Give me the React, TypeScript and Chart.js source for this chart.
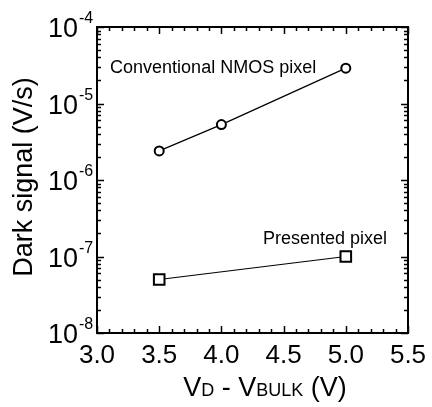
import React, { useEffect, useRef } from "react";
import { Chart, registerables } from "chart.js";

Chart.register(...registerables);

// ---- data ----
const conventionalX = [3.5, 4.0, 5.0];
const conventionalY = [2.4e-6, 5.3e-6, 2.9e-5];
const presentedX = [3.5, 5.0];
const presentedY = [5.0e-8, 1.0e-7];
const xTickLabels = ["3.0", "3.5", "4.0", "4.5", "5.0", "5.5"];
const xTickValues = [3.0, 3.5, 4.0, 4.5, 5.0, 5.5];
const yTickExponents = [-8, -7, -6, -5, -4];
const labelConventional = "Conventional NMOS pixel";
const labelPresented = "Presented pixel";
const yTitle = "Dark signal (V/s)";

const FONT = "'Liberation Sans', Arial, Helvetica, sans-serif";

const framePlugin = {
  id: "framePlugin",
  afterDraw(chart: any) {
    const { ctx, chartArea, scales } = chart;
    const xs = scales.x;
    const ys = scales.y;
    const { left, right, top, bottom } = chartArea;
    ctx.save();
    ctx.strokeStyle = "#000";
    ctx.fillStyle = "#000";

    // frame
    ctx.lineWidth = 2;
    ctx.strokeRect(left, top, right - left, bottom - top);

    // x ticks (inward, bottom and top)
    ctx.lineWidth = 1.5;
    for (let i = 0; i <= 25; i++) {
      const v = 3.0 + i * 0.1;
      const major = i % 5 === 0;
      const len = major ? 7 : 4;
      const px = Math.round(xs.getPixelForValue(v)) + 0.5;
      ctx.beginPath();
      ctx.moveTo(px, bottom);
      ctx.lineTo(px, bottom - len);
      ctx.moveTo(px, top);
      ctx.lineTo(px, top + len);
      ctx.stroke();
    }
    // y ticks (inward, left and right)
    for (let e = -8; e <= -4; e++) {
      for (let m = 1; m <= 9; m++) {
        if (e === -4 && m > 1) break;
        const v = m * Math.pow(10, e);
        const major = m === 1;
        const len = major ? 7 : 4;
        const py = Math.round(ys.getPixelForValue(v)) + 0.5;
        ctx.beginPath();
        ctx.moveTo(left, py);
        ctx.lineTo(left + len, py);
        ctx.moveTo(right, py);
        ctx.lineTo(right - len, py);
        ctx.stroke();
      }
    }

    // x tick labels
    ctx.font = `26px ${FONT}`;
    ctx.textAlign = "center";
    ctx.textBaseline = "alphabetic";
    xTickValues.forEach((v, i) => {
      ctx.fillText(xTickLabels[i], xs.getPixelForValue(v), bottom + 30);
    });

    // y tick labels 10^e
    yTickExponents.forEach((e) => {
      const py = ys.getPixelForValue(Math.pow(10, e));
      ctx.font = `27px ${FONT}`;
      ctx.textAlign = "right";
      ctx.fillText("10", left - 19, py + 10);
      ctx.font = `16px ${FONT}`;
      ctx.textAlign = "left";
      ctx.fillText(String(e), left - 18, py - 4);
    });

    // y title
    ctx.save();
    ctx.translate(32, (top + bottom) / 2 - 3);
    ctx.rotate(-Math.PI / 2);
    ctx.font = `27px ${FONT}`;
    ctx.textAlign = "center";
    ctx.textBaseline = "alphabetic";
    ctx.fillText(yTitle, 0, 0);
    ctx.restore();

    // x title: V_D - V_BULK (V)
    const parts: [string, number][] = [
      ["V", 27],
      ["D", 18],
      [" - V", 27],
      ["BULK", 18],
      [" (V)", 27],
    ];
    let total = 0;
    parts.forEach(([t, s]) => {
      ctx.font = `${s}px ${FONT}`;
      total += ctx.measureText(t).width;
    });
    let cx = 265 - total / 2;
    ctx.textAlign = "left";
    parts.forEach(([t, s]) => {
      ctx.font = `${s}px ${FONT}`;
      ctx.fillText(t, cx, bottom + 63);
      cx += ctx.measureText(t).width;
    });

    // annotations
    ctx.font = `18px ${FONT}`;
    ctx.textAlign = "left";
    ctx.textBaseline = "middle";
    ctx.fillText(labelConventional, xs.getPixelForValue(3.105), ys.getPixelForValue(2.9e-5));
    ctx.fillText(labelPresented, xs.getPixelForValue(4.334), ys.getPixelForValue(1.7e-7));

    ctx.restore();
  },
};

export default function App() {
  const ref = useRef<HTMLCanvasElement | null>(null);
  useEffect(() => {
    if (!ref.current) return;
    const chart = new Chart(ref.current, {
      type: "scatter",
      data: {
        datasets: [
          {
            label: "conventional",
            data: conventionalX.map((x, i) => ({ x, y: conventionalY[i] })),
            showLine: true,
            borderColor: "#000",
            borderWidth: 1.2,
            pointStyle: "circle",
            pointRadius: 4.5,
            pointBorderWidth: 2,
            pointBackgroundColor: "#fff",
            pointBorderColor: "#000",
          },
          {
            label: "presented",
            data: presentedX.map((x, i) => ({ x, y: presentedY[i] })),
            showLine: true,
            borderColor: "#000",
            borderWidth: 1.2,
            pointStyle: "rect",
            pointRadius: 7.5,
            pointBorderWidth: 2,
            pointBackgroundColor: "#fff",
            pointBorderColor: "#000",
          },
        ],
      },
      options: {
        responsive: false,
        animation: false,
        layout: { padding: { left: 97, top: 27, right: 24, bottom: 74 } },
        plugins: {
          legend: { display: false },
          tooltip: { enabled: false },
        },
        scales: {
          x: { type: "linear", min: 3, max: 5.5, display: false },
          y: { type: "logarithmic", min: 1e-8, max: 1e-4, display: false },
        },
      },
      plugins: [framePlugin],
    });
    return () => chart.destroy();
  }, []);
  return (
    <div style={{ position: "absolute", left: 0, top: 0, width: 432, height: 407, background: "#fff" }}>
      <canvas ref={ref} width={432} height={407} />
    </div>
  );
}
